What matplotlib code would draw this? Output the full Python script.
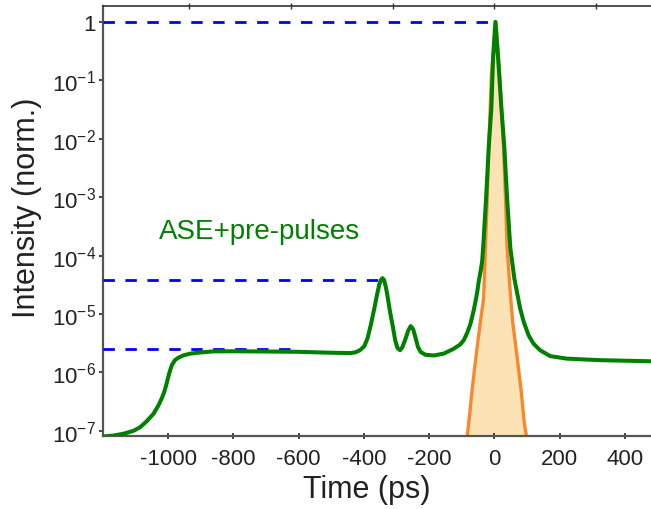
import numpy as np
import matplotlib
matplotlib.use("Agg")
import matplotlib.pyplot as plt
from matplotlib.ticker import FixedLocator, FuncFormatter, NullLocator

plt.rcParams['font.family'] = ['Liberation Sans', 'DejaVu Sans']
plt.rcParams['mathtext.fontset'] = 'custom'
plt.rcParams['mathtext.rm'] = 'Liberation Sans'
plt.rcParams['mathtext.it'] = 'Liberation Sans'
plt.rcParams['axes.unicode_minus'] = False

# green trace: ASE + pre-pulses (time in ps, normalised intensity)
t_ase = [-1198, -1167, -1137, -1106, -1086, -1066, -1045, -1030, -1020, -1012,
         -1005, -997, -989, -979, -969, -954, -933, -902, -862, -800,
         -700, -600, -500, -440, -425, -415, -409, -399, -389, -379,
         -368, -360, -353, -348, -343, -338, -333, -328, -320, -312,
         -304, -297, -289, -282, -272, -264, -256.5, -249, -241, -234,
         -226, -211, -185, -155, -124, -105, -94, -83, -73, -65,
         -58, -52, -48, -42, -37.6, -34.5, -25.3, -17.4, -9.2, -4,
         3, 11.3, 21.4, 30.5, 38.8, 48.9, 61, 69, 79, 90,
         105, 120, 140, 171, 222, 324, 480]
i_ase = [8.0e-8, 8.3e-8, 8.9e-8, 1.0e-7, 1.15e-7, 1.45e-7, 1.95e-7, 2.7e-7, 3.55e-7, 4.6e-7,
         6.3e-7, 9.5e-7, 1.32e-6, 1.62e-6, 1.78e-6, 1.95e-6, 2.09e-6, 2.19e-6, 2.29e-6, 2.3e-6,
         2.28e-6, 2.25e-6, 2.17e-6, 2.14e-6, 2.22e-6, 2.35e-6, 2.48e-6, 2.8e-6, 3.8e-6, 6.4e-6,
         1.24e-5, 2.1e-5, 3.15e-5, 3.8e-5, 4.1e-5, 3.8e-5, 2.94e-5, 2.1e-5, 1.1e-5, 6.4e-6,
         3.55e-6, 2.6e-6, 2.4e-6, 2.7e-6, 3.8e-6, 5.2e-6, 6.2e-6, 5.5e-6, 3.8e-6, 2.7e-6,
         2.24e-6, 2.0e-6, 1.95e-6, 2.1e-6, 2.55e-6, 3.0e-6, 3.55e-6, 4.8e-6, 6.9e-6, 1.05e-5,
         1.62e-5, 2.5e-5, 3.6e-5, 5.5e-5, 7.9e-5, 1.35e-4, 9.8e-4, 7.1e-3, 3.4e-2, 0.245,
         1.0, 0.245, 3.4e-2, 7.1e-3, 9.8e-4, 1.35e-4, 4.1e-5, 2.4e-5, 1.24e-5, 7.3e-6,
         4.3e-6, 3.1e-6, 2.4e-6, 1.9e-6, 1.72e-6, 1.62e-6, 1.55e-6]

# orange trace: main pulse
t_main = [-88, -83, -78.5, -68, -56, -43, -33, -27.5, -22, -17, -9, 5,
          16, 28, 34, 39, 50, 56, 69, 81.5, 91.5, 98, 102]
i_main = [5e-8, 8.1e-8, 1.38e-7, 5.2e-7, 1.95e-6, 7.4e-6, 1.86e-5, 1.35e-4, 9.8e-4, 7.9e-3, 0.129, 1.0,
          0.129, 7.9e-3, 9.8e-4, 1.35e-4, 1.86e-5, 7.4e-6, 1.95e-6, 5.2e-7, 1.38e-7, 8.1e-8, 5e-8]

# dashed reference levels and where they stop
ref_levels = [1.0, 3.8e-5, 2.55e-6]
ref_ends = [3, -350, -605]

xticks = [-1000, -800, -600, -400, -200, 0, 200, 400]
yticks = [1, 1e-1, 1e-2, 1e-3, 1e-4, 1e-5, 1e-6, 1e-7]
top_ticks = [-934.5, -623, -311.5, 0, 311.5]

fig = plt.figure(figsize=(6.51, 5.10), dpi=100)
ax = fig.add_axes([0.158, 0.143, 0.842, 0.843])

ax.fill_between(t_main, i_main, 1e-9, color='#fce3b6', lw=0, zorder=1)
ax.plot(t_main, i_main, color='#f7892c', lw=2.4, zorder=2)
for lvl, end in zip(ref_levels, ref_ends):
    ax.plot([-1200, end], [lvl, lvl], color='#0000ff', lw=2.0,
            dashes=(4.1, 3.8), zorder=3)
ax.plot(t_ase, i_ase, color='#008000', lw=2.9, zorder=4)

ax.text(-720, 10 ** -3.58, 'ASE+pre-pulses', color='#008000', fontsize=20,
        ha='center', va='center')

ax.set_yscale('log')
ax.set_xlim(-1200, 480)
ax.set_ylim(10 ** -7.09, 10 ** 0.27)

ax.xaxis.set_major_locator(FixedLocator(xticks))
ax.xaxis.set_minor_locator(NullLocator())
ax.yaxis.set_major_locator(FixedLocator(yticks))
ax.yaxis.set_minor_locator(NullLocator())


def fmt_y(v, pos):
    k = int(round(np.log10(v)))
    if k == 0:
        return '1'
    return r'$10^{%d}$' % k


ax.yaxis.set_major_formatter(FuncFormatter(fmt_y))
ax.tick_params(axis='x', direction='inout', length=5, width=1.2,
               labelsize=16, pad=6, colors='#222222')
ax.tick_params(axis='y', direction='out', length=3, width=1.2,
               labelsize=16, pad=2, colors='#222222')

for side in ['left', 'bottom']:
    ax.spines[side].set_color('#555555')
    ax.spines[side].set_linewidth(1.6)
ax.spines['top'].set_color('#333333')
ax.spines['top'].set_linewidth(1.2)
ax.spines['right'].set_visible(False)

top = ax.twiny()
top.set_xlim(ax.get_xlim())
top.set_xticks(top_ticks)
top.set_xticklabels([])
top.tick_params(axis='x', direction='inout', length=5, width=1.0, colors='#333333')
for side in ['left', 'bottom', 'right', 'top']:
    top.spines[side].set_visible(False)

ax.set_xlabel('Time (ps)', fontsize=22, color='#222222')
ax.xaxis.set_label_coords(0.482, -0.088)
ax.set_ylabel('Intensity (norm.)', fontsize=22, color='#222222')
ax.yaxis.set_label_coords(-0.111, 0.533)

fig.savefig('out.png', dpi=100)
